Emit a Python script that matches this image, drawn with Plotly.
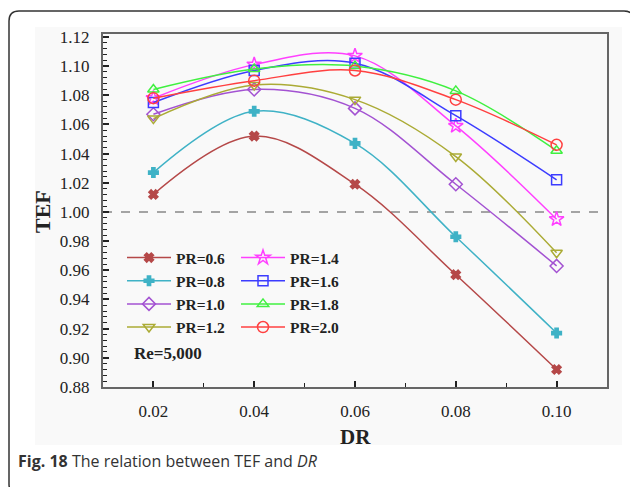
import plotly.graph_objects as go

dr = [0.02, 0.04, 0.06, 0.08, 0.10]
pr_labels = ["PR=0.6", "PR=0.8", "PR=1.0", "PR=1.2", "PR=1.4", "PR=1.6", "PR=1.8", "PR=2.0"]
tef_06 = [1.012, 1.052, 1.019, 0.957, 0.892]
tef_08 = [1.027, 1.069, 1.047, 0.983, 0.917]
tef_10 = [1.067, 1.084, 1.071, 1.019, 0.963]
tef_12 = [1.064, 1.087, 1.077, 1.038, 0.972]
tef_14 = [1.078, 1.101, 1.107, 1.059, 0.995]
tef_16 = [1.075, 1.097, 1.102, 1.066, 1.022]
tef_18 = [1.084, 1.098, 1.100, 1.083, 1.042]
tef_20 = [1.078, 1.090, 1.097, 1.077, 1.046]
series = [tef_06, tef_08, tef_10, tef_12, tef_14, tef_16, tef_18, tef_20]

colors = ["#b54848", "#3fb2c6", "#a352d2", "#abab35", "#ff40ff", "#3c3cff", "#40f040", "#ff4040"]
symbols = ["x", "cross", "diamond-open", "triangle-down-open", "star-open",
           "square-open", "triangle-up-open", "circle-open"]
sizes = [8, 8, 10, 10, 11, 10, 10, 11]

W, H = 630, 487
ML, MR, MT, MB = 103, 23, 34, 100
PW, PH = W - ML - MR, H - MT - MB


def px(x):
    return (x - ML) / PW


def py(y):
    return (H - MB - y) / PH


fig = go.Figure()
for i, (lab, vals) in enumerate(zip(pr_labels, series)):
    fig.add_trace(go.Scatter(
        x=dr, y=vals, name=lab, mode="lines+markers",
        line=dict(color=colors[i], width=1.5, shape="spline", smoothing=1),
        marker=dict(symbol=symbols[i], size=sizes[i], color=colors[i],
                    line=dict(color=colors[i], width=1.5)),
        legend="legend" if i < 4 else "legend2",
    ))

serif = "Liberation Serif, Times New Roman, serif"

# outer rounded border
x0, y0, x1, y1, r = 9, 11, 634, 494, 10
path = (f"M {px(x0)},{py(y0 + r)} Q {px(x0)},{py(y0)} {px(x0 + r)},{py(y0)} "
        f"L {px(x1 - r)},{py(y0)} Q {px(x1)},{py(y0)} {px(x1)},{py(y0 + r)} "
        f"L {px(x1)},{py(y1 - r)} Q {px(x1)},{py(y1)} {px(x1 - r)},{py(y1)} "
        f"L {px(x0 + r)},{py(y1)} Q {px(x0)},{py(y1)} {px(x0)},{py(y1 - r)} Z")

shapes = [
    dict(type="rect", xref="paper", yref="paper", x0=px(35), x1=px(622), y0=py(27), y1=py(445),
         fillcolor="#f9f9f9", line=dict(width=0), layer="below"),
    dict(type="path", xref="paper", yref="paper", path=path,
         line=dict(color="#333333", width=1.5)),
    dict(type="line", xref="paper", yref="y", x0=0, x1=1, y0=1.0, y1=1.0,
         line=dict(color="#888888", width=1.5, dash="dash"), layer="below"),
]

annotations = [
    dict(text="<b>DR</b>", x=0.5, y=py(437), xref="paper", yref="paper", showarrow=False,
         xanchor="center", yanchor="middle", font=dict(family=serif, size=21, color="#222")),
    dict(text="<b>TEF</b>", x=px(42), y=py(212), xref="paper", yref="paper", showarrow=False,
         textangle=-90, xanchor="center", yanchor="middle",
         font=dict(family=serif, size=22, color="#222")),
    dict(text="<b>Re=5,000</b>", x=px(132), y=py(353), xref="paper", yref="paper", showarrow=False,
         xanchor="left", yanchor="middle", font=dict(family=serif, size=17, color="#222")),
    dict(text="<b>Fig. 18</b> The relation between TEF and <i>DR</i>", x=px(16), y=py(461),
         xref="paper", yref="paper", showarrow=False, xanchor="left", yanchor="middle",
         font=dict(family="Open Sans, sans-serif", size=16, color="#333")),
]

legend_font = dict(family=serif, size=15.5, color="#222", weight="bold")
fig.update_layout(
    width=W, height=H,
    margin=dict(l=ML, r=MR, t=MT, b=MB),
    paper_bgcolor="white", plot_bgcolor="rgba(0,0,0,0)",
    shapes=shapes, annotations=annotations,
    legend=dict(x=px(122), y=py(241), xanchor="left", yanchor="top", bgcolor="rgba(0,0,0,0)",
                font=legend_font, itemwidth=44, tracegroupgap=0),
    legend2=dict(x=px(236), y=py(241), xanchor="left", yanchor="top", bgcolor="rgba(0,0,0,0)",
                 font=legend_font, itemwidth=44, tracegroupgap=0),
    xaxis=dict(range=[0.01, 0.11], tickvals=dr, ticktext=["0.02", "0.04", "0.06", "0.08", "0.10"],
               ticks="inside", ticklen=6, tickwidth=1.5, tickcolor="#222",
               showline=True, linecolor="#666", linewidth=2, mirror=True,
               showgrid=False, zeroline=False, ticklabelstandoff=8,
               tickfont=dict(family=serif, size=17, color="#222"),
               minor=dict(dtick=0.01, tick0=0.01, ticks="inside", ticklen=4, tickcolor="#222",
                          tickwidth=1.2, showgrid=False)),
    yaxis=dict(range=[0.88, 1.122], dtick=0.02, tick0=0.88, tickformat=".2f",
               ticks="inside", ticklen=6, tickwidth=1.5, tickcolor="#222",
               showline=True, linecolor="#666", linewidth=2, mirror=True,
               showgrid=False, zeroline=False, ticklabelstandoff=8,
               tickfont=dict(family=serif, size=17, color="#222"),
               minor=dict(dtick=0.004, tick0=0.88, ticks="inside", ticklen=4, tickcolor="#222",
                          tickwidth=1.2, showgrid=False)),
)

fig.write_html("out.html")
